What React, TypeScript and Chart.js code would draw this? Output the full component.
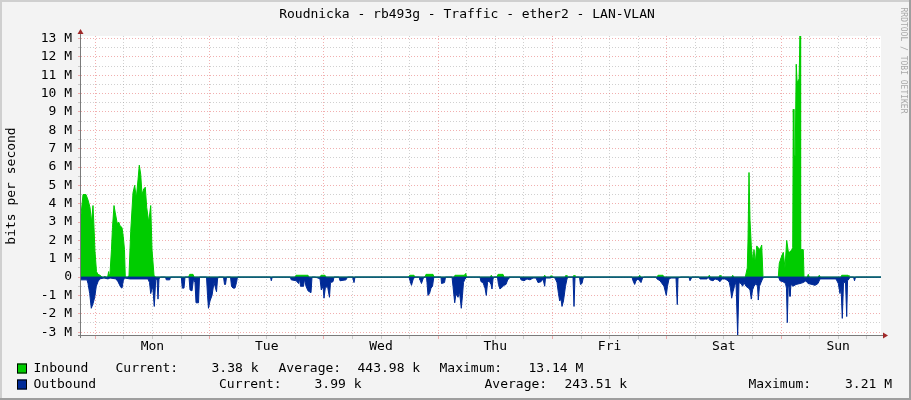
import React, { useEffect, useRef } from 'react';
import { Chart, registerables } from 'chart.js';

Chart.register(...registerables);

// ---- data (time axis: hours since Sunday 21:00, values: Mbit/s) ----
const DAY_NAMES = ['Mon', 'Tue', 'Wed', 'Thu', 'Fri', 'Sat', 'Sun'];
const SPAN_HOURS = 168;
const FIRST_MIDNIGHT = 3;
const Y_MIN = -3.21;
const Y_MAX = 13.14;

const inboundHours = [
  0, 0.42, 1.05, 1.47, 1.89, 2.2, 2.52, 2.73, 2.94, 3.25, 3.57, 3.99, 4.41, 4.9, 5.0, 5.1, 5.6, 5.8, 5.95,
  6.09, 6.4, 6.61, 6.93, 7.2, 7.62, 7.92, 8.19, 8.61, 8.88, 9.13, 9.3, 9.9,
  10.08, 10.44, 10.92, 11.28, 11.61, 11.97, 12.24, 12.54, 12.81, 13.17, 13.5, 13.8, 14.22, 14.64, 14.91, 15.33, 15.64,
  22.6, 22.83, 23.52, 23.75, 44.9, 45.15, 47.67, 47.9, 50.2, 50.4, 51.24, 51.45,
  68.8, 69.03, 69.93, 70.15, 72.25, 72.45, 73.92, 74.15, 78.3, 78.54, 80.5, 80.79, 81.0,
  85.95, 86.16, 86.4, 87.35, 87.57, 88.62, 88.85, 97.15, 97.38, 97.6, 98.5, 98.7, 98.9,
  101.65, 101.85, 102.05, 103.33, 103.53, 103.73, 117.13, 117.33, 117.53, 120.95, 121.17, 122.22, 122.45,
  131.74, 131.94, 132.14, 133.99, 134.19, 134.39, 136.66, 136.86, 137.06,
  139.5, 139.92, 140.07, 140.28, 140.49, 140.76, 141.06, 141.33, 141.6, 141.9, 142.23, 142.59, 142.95, 143.22,
  146.43, 146.64, 147.15, 147.48, 147.84, 148.2, 148.53, 148.89, 149.25, 149.46, 149.58, 149.72, 149.98,
  150.2, 150.38, 150.8, 150.99, 151.12, 151.68, 151.83,
  152.53, 152.73, 152.93, 154.84, 155.04, 155.24, 159.55, 159.75, 161.07, 161.27, 168,
];
const inboundMbps = [
  3.4, 4.5, 4.5, 4.2, 3.8, 3.0, 3.9, 2.7, 1.4, 0.3, 0.15, 0.1, 0, 0, 0.06, 0, 0, 0.3, 0.05,
  0.2, 1.5, 2.7, 3.9, 3.5, 2.9, 3.0, 2.8, 2.7, 2.2, 1.5, 0, 0,
  0.1, 2.5, 4.6, 5.0, 4.3, 5.3, 6.1, 5.6, 4.5, 4.8, 4.9, 3.8, 3.0, 3.9, 1.5, 0.1, 0,
  0, 0.15, 0.15, 0, 0, 0.1, 0.1, 0, 0, 0.1, 0.1, 0,
  0, 0.1, 0.1, 0, 0, 0.15, 0.15, 0, 0, 0.1, 0.1, 0.2, 0,
  0, 0.1, 0, 0, 0.15, 0.15, 0, 0, 0.1, 0, 0, 0.08, 0,
  0, 0.1, 0, 0, 0.1, 0, 0, 0.1, 0, 0, 0.1, 0.1, 0,
  0, 0.1, 0, 0, 0.1, 0, 0, 0.1, 0,
  0, 0.5, 2.0, 5.7, 3.1, 1.7, 0.85, 1.5, 0.75, 1.7, 1.6, 1.5, 1.75, 0,
  0, 0.75, 1.15, 1.35, 0.5, 2.0, 1.4, 1.35, 1.5, 1.6, 9.15, 6.6, 6.6,
  11.6, 10.6, 10.8, 13.14, 1.5, 1.5, 0,
  0, 0.15, 0, 0, 0.1, 0, 0, 0.1, 0.1, 0, 0,
];

const outboundHours = [
  0, 1.26, 1.47, 1.83, 2.16, 2.52, 2.88, 3.21, 3.57, 3.93, 4.83, 5.67, 6.09, 7.35, 7.77, 8.34, 8.61, 8.88, 9.13,
  10.29, 14.07, 14.39, 14.64, 15.06, 15.39, 15.69, 15.96, 16.17, 16.38, 16.69,
  17.74, 17.91, 18.63, 18.8, 21.06, 21.27, 21.63, 21.84, 22.68, 22.89, 23.31, 23.63, 23.94, 24.15, 24.68, 24.89,
  26.36, 26.57, 26.77, 27.09, 27.51, 27.93, 28.46, 28.67, 28.88, 29.93, 30.14, 30.35, 30.56,
  31.4, 31.61, 31.92, 32.34, 32.65, 32.86, 39.79, 39.96, 40.17,
  43.94, 44.15, 45.2, 45.68, 45.89, 46.1, 46.73, 46.94, 47.25, 47.67, 48.3, 48.51,
  49.14, 49.77, 50.19, 50.46, 50.82, 51.03, 51.3, 51.77, 52.18, 52.39, 52.92, 53.13,
  54.18, 54.39, 55.65, 55.97, 57.02, 57.33, 57.54,
  68.88, 69.09, 69.4, 69.72, 70.03, 71.08, 71.19, 71.5, 71.82, 72.03,
  72.56, 72.66, 72.87, 73.19, 73.5, 73.82, 74.03, 74.13, 75.6, 75.71, 76.34, 76.55,
  77.91, 78.12, 78.48, 78.75, 79.17, 79.49, 79.86, 80.11, 80.32, 80.64, 81.06,
  83.79, 84.0, 84.42, 84.84, 85.11, 85.37, 85.68, 86.1, 86.31, 86.52, 86.73,
  87.46, 87.67, 87.98, 88.41, 88.83, 89.25, 89.67, 89.88,
  92.19, 92.4, 93.03, 93.66, 94.29, 94.92, 95.55, 95.97, 96.6, 97.02, 97.38, 97.54, 98.49, 99.12,
  99.54, 99.96, 100.27, 100.52, 100.8, 101.01, 101.32, 101.74, 102.06, 102.27,
  103.32, 103.53, 103.74, 104.68, 104.89, 105.21, 105.42, 105.63,
  115.71, 115.92, 116.27, 116.55, 116.97, 117.6, 117.92, 118.23,
  120.75, 120.96, 121.59, 122.43, 122.91, 123.16, 123.48, 123.9, 124.95, 125.22, 125.37, 126.0,
  127.68, 127.89, 128.31, 129.78, 129.99, 131.46, 131.67, 132.09, 132.72, 133.14, 133.77, 134.19, 134.61,
  135.24, 135.87, 136.14, 136.39, 136.64, 136.92, 137.23, 137.55, 137.9, 138.18, 138.6, 138.95, 139.23,
  139.65, 140.17, 140.49, 140.76, 141.02, 141.33, 141.75, 142.07, 142.23, 142.48, 142.8, 143.12, 143.43,
  146.48, 146.79, 147.42, 147.94, 148.15, 148.32, 148.53, 148.74, 148.89, 149.1, 149.52, 150.15, 150.99,
  151.62, 152.25, 152.67, 153.51, 154.14, 154.77, 155.19, 156.87, 158.55,
  159.03, 159.39, 159.6, 159.87, 160.13, 160.55, 160.8, 160.97, 161.28, 161.49, 162.23, 162.44, 162.65, 168,
];
const outboundMbps = [
  -0.15, -0.15, -0.35, -0.9, -1.7, -1.45, -1.1, -0.5, -0.25, -0.1, -0.05, -0.1, -0.05, -0.1, -0.25, -0.55, -0.6, -0.2, -0.05,
  -0.1, -0.1, -0.3, -0.9, -0.5, -1.6, -0.15, -0.1, -1.2, -0.1, 0,
  0, -0.15, -0.15, 0, 0, -0.6, -0.6, 0, 0, -0.7, -0.75, -0.1, -0.3, -1.4, -1.4, 0,
  0, -1.0, -1.7, -1.3, -1.0, -0.3, -0.8, -0.1, 0, 0, -0.4, -0.4, 0,
  0, -0.5, -0.6, -0.6, -0.3, 0, 0, -0.2, 0,
  0, -0.15, -0.2, -0.35, -0.1, -0.5, -0.5, -0.1, -0.5, -0.75, -0.85, 0,
  0, -0.05, -0.1, -0.7, -0.5, -1.15, -0.6, -0.5, -1.1, -0.3, -0.25, 0,
  0, -0.2, -0.15, 0, 0, -0.3, 0,
  0, -0.2, -0.45, -0.15, 0, 0, -0.15, -0.35, -0.1, 0,
  0, -0.3, -1.0, -0.9, -0.6, -0.5, -0.1, 0, 0, -0.35, -0.3, 0,
  0, -0.5, -1.4, -0.9, -1.1, -0.8, -1.7, -1.0, -0.3, -0.1, 0,
  0, -0.25, -0.3, -0.6, -1.0, -0.3, -0.2, -0.4, -0.65, -0.1, 0,
  0, -0.4, -0.65, -0.55, -0.45, -0.4, -0.1, 0,
  0, -0.15, -0.2, -0.1, -0.15, -0.05, -0.05, -0.3, -0.25, -0.1, -0.5, -0.05, -0.05, 0,
  -0.05, -0.3, -0.9, -1.3, -1.2, -1.6, -1.3, -0.5, -0.1, 0,
  0, -1.6, 0, 0, -0.4, -0.35, -0.1, 0,
  0, -0.2, -0.4, -0.2, -0.1, -0.3, -0.05, 0,
  0, -0.1, -0.2, -0.5, -1.0, -0.5, -0.1, -0.05, -0.05, -1.5, -0.05, 0,
  0, -0.2, 0, 0, -0.1, -0.1, 0, -0.15, -0.2, -0.1, -0.15, -0.25, -0.1,
  -0.1, -0.2, -0.3, -0.6, -1.15, -0.8, -0.5, -0.25, -3.21, -0.3, -0.35, -0.5, -0.3,
  -0.5, -0.6, -0.7, -1.2, -0.7, -0.5, -0.35, -0.5, -1.25, -0.5, -0.3, -0.1, 0,
  0, -0.2, -0.25, -0.35, -0.6, -2.48, -0.4, -0.6, -1.05, -0.4, -0.5, -0.4, -0.35,
  -0.3, -0.2, -0.35, -0.4, -0.45, -0.35, -0.1, -0.1, -0.1,
  -0.35, -0.9, -0.5, -2.25, -0.3, -0.3, -2.15, -0.2, -0.1, 0, 0, -0.2, 0, 0,
];

const X_TICK_HOURS: number[] = [];
for (let h = FIRST_MIDNIGHT; h < SPAN_HOURS; h += 6) X_TICK_HOURS.push(h);
const Y_TICKS: number[] = [];
for (let v = -3; v <= 13; v += 0.5) Y_TICKS.push(v);

const TITLE = 'Roudnicka - rb493g - Traffic - ether2 - LAN-VLAN';
const Y_TITLE = 'bits per second';
const WATERMARK = 'RRDTOOL / TOBI OETIKER';
const LEGEND_ROWS = [
  {
    name: 'Inbound', color: '#00CC00',
    items: [['Current:', 116], ['3.38 k', 212], ['Average:', 279], ['443.98 k', 358], ['Maximum:', 440], ['13.14 M', 529]],
  },
  {
    name: 'Outbound', color: '#002A97',
    items: [['Current:', 219.5], ['3.99 k', 315], ['Average:', 485], ['243.51 k', 565], ['Maximum:', 749], ['3.21 M', 845.5]],
  },
];

const FONT = "'DejaVu Sans Mono', monospace";
const MAJOR = 'rgba(230, 110, 110, 0.55)';
const MINOR = 'rgba(150, 150, 150, 0.45)';

const toPoints = (xs: number[], ys: number[]) => xs.map((x, i) => ({ x, y: ys[i] }));

const decorPlugin = {
  id: 'rrdDecor',
  beforeDraw(chart: any) {
    const { ctx, width, height, chartArea } = chart;
    ctx.save();
    ctx.fillStyle = '#F3F3F3';
    ctx.fillRect(0, 0, width, height);
    ctx.fillStyle = '#CFCFCF';
    ctx.fillRect(0, 0, width, 2);
    ctx.fillRect(0, 0, 2, height);
    ctx.fillStyle = '#9E9E9E';
    ctx.fillRect(0, height - 2, width, 2);
    ctx.fillRect(width - 2, 0, 2, height);
    ctx.fillStyle = '#FFFFFF';
    ctx.fillRect(chartArea.left, chartArea.top, chartArea.right - chartArea.left, chartArea.bottom - chartArea.top);
    ctx.restore();
  },
  afterDraw(chart: any) {
    const { ctx, chartArea } = chart;
    const { left, right, top, bottom } = chartArea;
    ctx.save();
    // axes
    ctx.strokeStyle = '#7A7A7A';
    ctx.lineWidth = 1;
    ctx.beginPath();
    ctx.moveTo(left - 0.5, bottom + 2);
    ctx.lineTo(left - 0.5, top - 3);
    ctx.moveTo(left - 3, bottom - 0.5);
    ctx.lineTo(right + 2, bottom - 0.5);
    ctx.stroke();
    ctx.fillStyle = '#A02828';
    ctx.beginPath();
    ctx.moveTo(left - 0.5, top - 7);
    ctx.lineTo(left - 3.5, top - 2);
    ctx.lineTo(left + 2.5, top - 2);
    ctx.closePath();
    ctx.fill();
    ctx.beginPath();
    ctx.moveTo(right + 7, bottom - 0.5);
    ctx.lineTo(right + 2, bottom - 3.5);
    ctx.lineTo(right + 2, bottom + 2.5);
    ctx.closePath();
    ctx.fill();

    // title
    ctx.fillStyle = '#000';
    ctx.font = `13px ${FONT}`;
    ctx.textBaseline = 'middle';
    ctx.textAlign = 'center';
    ctx.fillText(TITLE, 467, 14.5);

    // y title
    ctx.save();
    ctx.translate(12, 186);
    ctx.rotate(-Math.PI / 2);
    ctx.textAlign = 'center';
    ctx.fillText(Y_TITLE, 0, 0);
    ctx.restore();

    // watermark
    ctx.save();
    ctx.translate(903, 60.5);
    ctx.rotate(Math.PI / 2);
    ctx.font = `8px ${FONT}`;
    ctx.fillStyle = '#A8A8A8';
    ctx.textAlign = 'center';
    ctx.fillText(WATERMARK, 0, 0);
    ctx.restore();

    // legend
    ctx.font = `13px ${FONT}`;
    ctx.textAlign = 'left';
    LEGEND_ROWS.forEach((row, r) => {
      const cy = 368.5 + r * 16;
      ctx.fillStyle = row.color;
      ctx.fillRect(17, cy - 5, 10, 10);
      ctx.strokeStyle = '#000';
      ctx.lineWidth = 1;
      ctx.strokeRect(17.5, cy - 4.5, 9, 9);
      ctx.fillStyle = '#000';
      ctx.fillText(row.name, 33.5, cy);
      row.items.forEach(([text, x]) => ctx.fillText(text as string, (x as number) - 0.5, cy));
    });
    ctx.restore();
  },
};

export default function App() {
  const canvasRef = useRef<HTMLCanvasElement | null>(null);

  useEffect(() => {
    document.body.style.margin = '0';
    const canvas = canvasRef.current;
    if (!canvas) return;
    const chart = new Chart(canvas, {
      type: 'line',
      data: {
        datasets: [
          {
            label: 'zero',
            data: [{ x: 0, y: 0 }, { x: SPAN_HOURS, y: 0 }],
            borderColor: '#002A97',
            borderWidth: 1,
            fill: false,
            pointRadius: 0,
          },
          {
            label: 'Inbound',
            data: toPoints(inboundHours, inboundMbps),
            borderColor: '#00CC00',
            backgroundColor: '#00CC00',
            borderWidth: 1,
            fill: 'origin',
            pointRadius: 0,
            tension: 0,
          },
          {
            label: 'Outbound',
            data: toPoints(outboundHours, outboundMbps),
            borderColor: '#002A97',
            backgroundColor: '#002A97',
            borderWidth: 1,
            fill: 'origin',
            pointRadius: 0,
            tension: 0,
          },
        ],
      },
      options: {
        responsive: false,
        animation: false,
        events: [],
        layout: { padding: { top: 36, right: 30, left: 0, bottom: 0 } },
        plugins: { legend: { display: false }, tooltip: { enabled: false }, title: { display: false } },
        scales: {
          x: {
            type: 'linear',
            min: 0,
            max: SPAN_HOURS,
            afterFit: (s: any) => { s.height = 64; },
            afterBuildTicks: (s: any) => { s.ticks = X_TICK_HOURS.map((value) => ({ value })); },
            grid: {
              color: (c: any) => (((c.tick?.value ?? 0) - FIRST_MIDNIGHT) % 24 === 0 ? MAJOR : MINOR),
              lineWidth: 1,
              drawTicks: true,
              tickLength: 3,
            },
            border: { display: false, dash: [1, 2] },
            ticks: {
              autoSkip: false,
              maxRotation: 0,
              padding: 0,
              color: '#000',
              font: { family: FONT, size: 13 },
              callback: (v: any) => {
                const rel = Number(v) - FIRST_MIDNIGHT;
                return rel % 24 === 12 ? DAY_NAMES[Math.floor(rel / 24)] : '';
              },
            },
          },
          y: {
            type: 'linear',
            min: Y_MIN,
            max: Y_MAX,
            afterFit: (s: any) => { s.width = 81; },
            afterBuildTicks: (s: any) => { s.ticks = Y_TICKS.map((value) => ({ value })); },
            grid: {
              color: (c: any) => (Number.isInteger(c.tick?.value) ? MAJOR : MINOR),
              lineWidth: 1,
              drawTicks: true,
              tickLength: 3,
            },
            border: { display: false, dash: [1, 2] },
            ticks: {
              autoSkip: false,
              padding: 6,
              color: '#000',
              font: { family: FONT, size: 13 },
              callback: (v: any) => {
                const n = Number(v);
                if (!Number.isInteger(n)) return '';
                return n === 0 ? '0' : `${n} M`;
              },
            },
          },
        },
      },
      plugins: [decorPlugin],
    } as any);
    return () => chart.destroy();
  }, []);

  return (
    <div style={{ position: 'absolute', left: 0, top: 0, width: 911, height: 400 }}>
      <canvas ref={canvasRef} width={911} height={400} style={{ display: 'block', width: 911, height: 400 }} />
    </div>
  );
}
